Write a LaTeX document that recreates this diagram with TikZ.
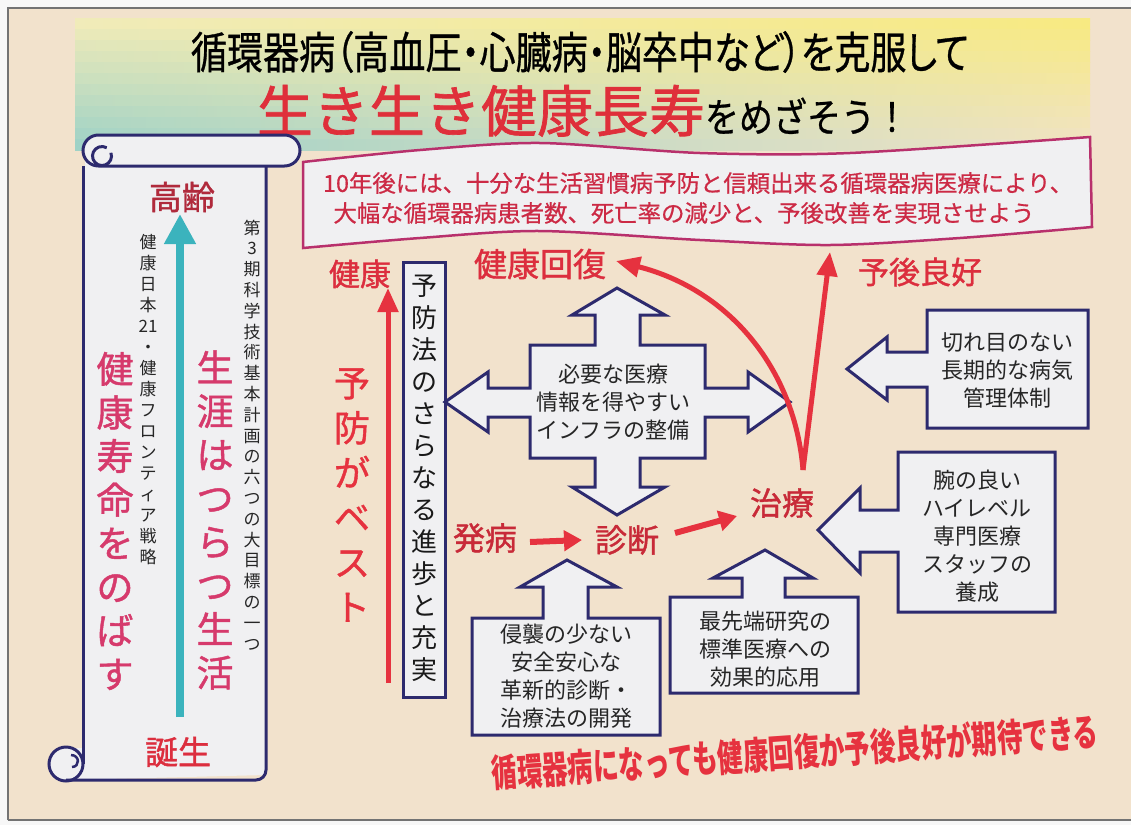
\documentclass[tikz,border=0pt]{standalone}
\usepackage{fontspec}
\setmainfont{Noto Sans CJK JP}
\newfontfamily\jpm[FakeBold=1.2]{Noto Sans CJK JP}
\newfontfamily\jpl[FakeBold=0.6]{Noto Sans CJK JP}
\newfontfamily\jpt[RawFeature=+palt, FakeBold=0.8]{Noto Sans CJK JP}
\usepackage{graphicx}
\usetikzlibrary{arrows.meta}
\definecolor{bg}{HTML}{F2E2CC}
\definecolor{navy}{HTML}{2D2A6E}
\definecolor{boxfill}{HTML}{F0F0F2}
\definecolor{redA}{HTML}{E6323F}
\definecolor{redL}{HTML}{DC2E3E}
\definecolor{crim}{HTML}{C82A38}
\definecolor{pinkT}{HTML}{D63A6C}
\definecolor{magB}{HTML}{B8306C}
\definecolor{pinktext}{HTML}{CC2A45}
\definecolor{tealA}{HTML}{3BB3BD}
\definecolor{darkred}{HTML}{B02A3C}
\definecolor{titlered}{HTML}{DF2F3A}
\definecolor{bTL}{HTML}{F0EBB9}
\definecolor{bBL}{HTML}{9FD2C6}
\definecolor{bTR}{HTML}{F7EA82}
\definecolor{bBR}{HTML}{F1E3C4}
\newcommand{\fs}[2]{\fontsize{#1}{#2}\selectfont}
\begin{document}
\begin{tikzpicture}[x=1pt,y=-1pt,
  blk/.style={draw=navy, line width=3pt, fill=boxfill, line join=miter},
  btxt/.style={inner sep=0pt, align=center, font=\fs{22}{28}, text=black!85},
  rlbl/.style={inner sep=0pt, text=redL},
  vtxt/.style={inner sep=0pt, align=center},
  rarrow/.style={draw=redA, line width=5pt, -{Triangle[length=24pt,width=20pt]}},
]
\useasboundingbox (0,0) rectangle (1131,825);
% background and frame
\fill[black!3] (0,0) rectangle (1131,825);
\fill[bg] (8,8) rectangle (1131,820);
\draw[black!55, line width=1.5pt] (8,820) -- (8,8) -- (1131,8);
\draw[black!55, line width=1.5pt] (8,820) -- (1131,820);
% banner
\foreach \i in {0,...,11} {
  \pgfmathsetmacro\p{100-\i*100/11}
  \shade[left color=bTL!\p!bBL, right color=bTR!\p!bBR] (75,{18+\i*11}) rectangle (1090,{18+\i*11+11.6});
}
% title
\node[inner sep=0pt] (t1) at (580,52) {\jpt\fs{44}{48}\scalebox{0.82}[1]{循環器病（高血圧・心臓病・脳卒中など）を克服して}};
\node[inner sep=0pt, anchor=base] (t2) at (583,132) {\textcolor{titlered}{\jpm\fs{56}{60}生き生き健康長寿}{\jpl\fs{40}{48}\scalebox{0.85}[1]{をめざそう！}}};
% pink banner box
\draw[magB, line width=2.5pt, fill=boxfill]
  plot[smooth] coordinates {(303,162) (420,150) (540,143) (700,153) (850,153) (1090,137)}
  -- (1092,227)
  -- plot[smooth] coordinates {(1092,227) (960,238) (830,245) (700,240) (540,231) (420,238) (303,248)}
  -- cycle;
\node[inner sep=0pt, font=\jpl\fs{23.4}{28}, text=pinktext] (p1) at (698,183) {10年後には、十分な生活習慣病予防と信頼出来る循環器病医療により、};
\node[inner sep=0pt, font=\jpl\fs{23.4}{28}, text=pinktext] (p2) at (684,213) {大幅な循環器病患者数、死亡率の減少と、予後改善を実現させよう};
% scroll
\fill[boxfill] (85,160) -- (266,160) -- (266,775) -- (66,780) -- (66,748) -- (85,748) -- cycle;
\draw[navy, line width=3pt, fill=boxfill] (66,764) circle (17);
\draw[navy, line width=3pt] (83,166) -- (83,764);
\draw[navy, line width=3pt, rounded corners=10pt] (266,166) -- (266,780) -- (66,780);
\draw[navy, line width=2.5pt] (71,755) .. controls (80,755) and (80,767) .. (72,767);
\draw[navy, line width=3pt, fill=boxfill, rounded corners=15.5pt] (83,135) rectangle (300,166);
\draw[navy, line width=3pt] (102,156) ++(-20:9.5) arc (-20:300:9.5);
% scroll contents
\node[inner sep=0pt, font=\jpm\fs{33}{36}, text=darkred] (korei) at (182,197) {高齢};
\node[inner sep=0pt, font=\jpm\fs{33}{36}, text=redL] (tanjo) at (178,752) {誕生};
\coordinate (tealS) at (180,717);
\coordinate (tealE) at (180,214);
\draw[tealA, line width=8pt, -{Triangle[length=30pt,width=30pt]}] (tealS) -- (tealE);
\node[vtxt, font=\jpm\fs{37}{43.6}, text=pinkT] (jumyo) at (115,521) {健\\康\\寿\\命\\を\\の\\ば\\す};
\node[vtxt, font=\jpm\fs{37}{43.6}, text=pinkT] (shogai) at (215,520) {生\\涯\\は\\つ\\ら\\つ\\生\\活};
\node[vtxt, font=\fs{17}{21}, text=black!85] (nihon) at (148,400) {健\\康\\日\\本\\21\\・\\健\\康\\フ\\ロ\\ン\\テ\\ィ\\ア\\戦\\略};
\node[vtxt, font=\fs{17}{20.8}, text=black!85] (daisan) at (252,435) {第\\3\\期\\科\\学\\技\\術\\基\\本\\計\\画\\の\\六\\つ\\の\\大\\目\\標\\の\\一\\つ};
% prevention column
\node[rlbl, font=\jpm\fs{31}{36}] (kenko) at (360,274) {健康};
\node[vtxt, font=\jpm\fs{36}{44.8}, text=redA] (yobo) at (352,495) {予\\防\\が\\ベ\\ス\\ト};
\coordinate (yS) at (388,683);
\coordinate (yE) at (388,288);
\draw[rarrow] (yS) -- (yE);
\draw[navy, line width=3pt, fill=boxfill] (403,262) rectangle (445,697);
\node[vtxt, font=\fs{26}{32}, text=black!90] (yoboho) at (424,478) {予\\防\\法\\の\\さ\\ら\\な\\る\\進\\歩\\と\\充\\実};
% central cross arrow
\draw[blk] (617,288) -- (665,315) -- (640,315) -- (640,345) -- (705,345) -- (705,388) -- (748,388) -- (748,372) -- (790,402) -- (748,432) -- (748,417) -- (705,417) -- (705,458) -- (640,458) -- (640,487) -- (665,487) -- (617,515) -- (572,487) -- (595,487) -- (595,458) -- (530,458) -- (530,417) -- (488,417) -- (488,432) -- (445,402) -- (488,372) -- (488,388) -- (530,388) -- (530,345) -- (595,345) -- (595,315) -- (572,315) -- cycle;
\node[btxt] (infra) at (613,402) {必要な医療\\情報を得やすい\\インフラの整備};
% right boxes
\draw[blk] (927,310) -- (1088,310) -- (1088,428) -- (927,428) -- (927,387) -- (887,387) -- (887,400) -- (847,369) -- (887,337) -- (887,352) -- (927,352) -- cycle;
\node[btxt] (kanri) at (1007,370) {切れ目のない\\長期的な病気\\管理体制};
\draw[blk] (898,452) -- (1055,452) -- (1055,612) -- (898,612) -- (898,552) -- (860,552) -- (860,573) -- (818,530) -- (860,488) -- (860,510) -- (898,510) -- cycle;
\node[btxt] (staff) at (977,536) {腕の良い\\ハイレベル\\専門医療\\スタッフの\\養成};
% bottom boxes
\draw[blk] (472,618) -- (543,618) -- (543,587) -- (520,587) -- (567,560) -- (617,587) -- (588,587) -- (588,618) -- (660,618) -- (660,735) -- (472,735) -- cycle;
\node[btxt] (shinsh) at (566,676) {侵襲の少ない\\安全安心な\\革新的診断・\\治療法の開発};
\draw[blk] (670,597) -- (742,597) -- (742,578) -- (713,578) -- (765,550) -- (813,578) -- (785,578) -- (785,597) -- (858,597) -- (858,693) -- (670,693) -- cycle;
\node[btxt] (saisen) at (765,649) {最先端研究の\\標準医療への\\効果的応用};
% flow labels
\node[inner sep=0pt, font=\jpm\fs{32}{36}, text=crim] (hatsu) at (485,538) {発病};
\node[inner sep=0pt, font=\jpm\fs{32}{36}, text=crim] (shindan) at (627,540) {診断};
\node[inner sep=0pt, font=\jpm\fs{32}{36}, text=crim] (chiryo) at (782,503) {治療};
\node[rlbl, font=\jpm\fs{33}{36}] (kaifuku) at (540,264) {健康回復};
\node[rlbl, font=\jpm\fs{31}{36}] (yogo) at (920,272) {予後良好};
\coordinate (hS) at (530,542);
\coordinate (hE) at (582,540);
\coordinate (dS) at (675,533);
\coordinate (dE) at (737,516);
\draw[draw=redA, line width=6pt, -{Triangle[length=18pt,width=20pt]}] (hS) -- (hE);
\draw[draw=redA, line width=6pt, -{Triangle[length=18pt,width=20pt]}] (dS) -- (dE);
\coordinate (cB) at (803,470);
\coordinate (gE) at (830,252);
\coordinate (kE) at (616,261);
\draw[rarrow] (cB) -- (gE);
\draw[rarrow] (cB) .. controls (795,370) and (730,290) .. (kE);
% bottom slogan
\node[inner sep=0pt, rotate=4, text=redA] (slogan) at (795,752) {\bfseries\fs{38}{40}\scalebox{0.67}[1]{循環器病になっても健康回復か予後良好が期待できる}};
\end{tikzpicture}
\end{document}
